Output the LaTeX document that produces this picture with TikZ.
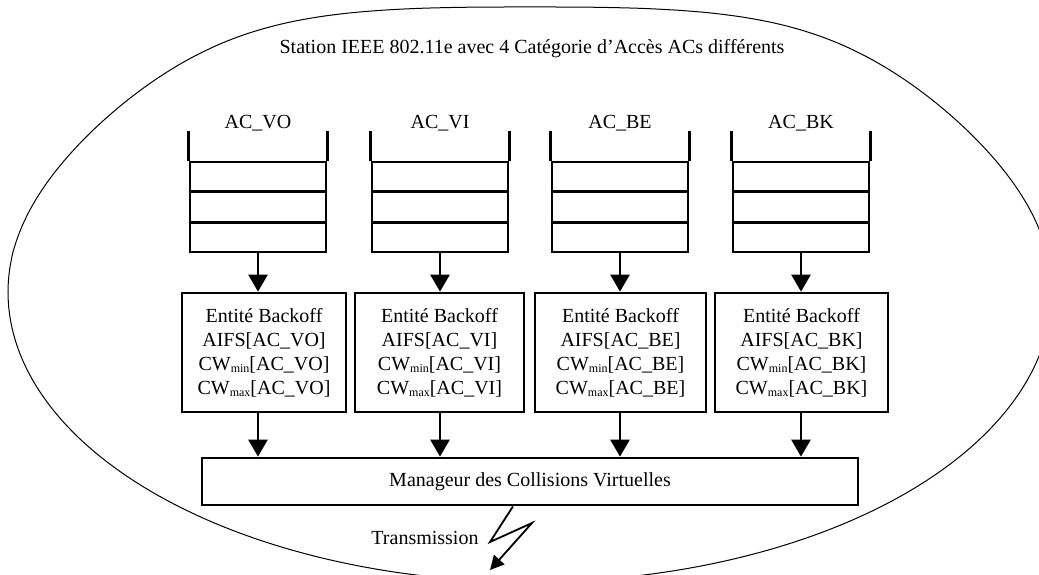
\documentclass[tikz,border=0pt]{standalone}
\usepackage{fontspec}
\setmainfont{Liberation Serif}
\usetikzlibrary{arrows.meta,calc}
\begin{document}
\begin{tikzpicture}[x=1pt,y=-1pt,
  thickln/.style={line width=2.7pt},
  qbox/.style={draw,thickln,minimum width=136pt,minimum height=90pt,inner sep=0pt},
  bobox/.style={draw,thickln,minimum height=119pt,inner sep=0pt,align=center,
     font=\fontsize{20}{24}\selectfont},
  lbl/.style={font=\fontsize{20}{24}\selectfont,inner sep=0pt},
  arr/.style={thickln,-{Triangle[width=19pt,length=17pt]}},
  bolt/.style={line width=1.8pt,-{Triangle[width=14pt,length=14pt]}}]
\useasboundingbox (0,0) rectangle (1039,575);
\begin{scope}
\clip (0,0) rectangle (1039,575);
\draw[line width=1pt]
  plot[domain=0.3:179.7, samples=150, smooth, variable=\t]
   ({530 + 522*cos(\t)*pow(abs(cos(\t)), 2/(2+0.8*pow(sin(\t),4)) - 1)},
    {292 - 285*pow(abs(sin(\t)), 2/(2+0.8*pow(sin(\t),4)))})
  -- plot[domain=180:360, samples=120, smooth, variable=\t]
   ({530 + 522*cos(\t)}, {292 - 290*sin(\t)})
  -- cycle;
\end{scope}
\node[lbl] (title) at (532,49) {Station IEEE 802.11e avec 4 Catégorie d’Accès ACs différents};
% queues
\foreach \n/\x/\t in {1/258/AC\_VO,2/440/AC\_VI,3/620/AC\_BE,4/801/AC\_BK}{
  \node[qbox] (q\n) at (\x,207) {};
  \draw[thickln] (q\n.north west) -- ++(0,-30);
  \draw[thickln] (q\n.north east) -- ++(0,-30);
  \draw[thickln] ($(q\n.north west)!1/3!(q\n.south west)$) -- ($(q\n.north east)!1/3!(q\n.south east)$);
  \draw[thickln] ($(q\n.north west)!2/3!(q\n.south west)$) -- ($(q\n.north east)!2/3!(q\n.south east)$);
  \node[lbl] (l\n) at (\x,123) {\t};
}
% backoff boxes
\newcommand{\bocontent}[1]{Entité Backoff\\AIFS[#1]\\CW{\fontsize{12}{12}\selectfont\raisebox{-2.5pt}{min}}[#1]\\CW{\fontsize{12}{12}\selectfont\raisebox{-2.5pt}{max}}[#1]}
\node[bobox,minimum width=164pt] (b1) at (264,352.5) {\bocontent{AC\_VO}};
\node[bobox,minimum width=169pt] (b2) at (439.5,352.5) {\bocontent{AC\_VI}};
\node[bobox,minimum width=171pt] (b3) at (620.5,352.5) {\bocontent{AC\_BE}};
\node[bobox,minimum width=173pt] (b4) at (801.5,352.5) {\bocontent{AC\_BK}};
% manager
\node[draw,thickln,minimum width=656pt,minimum height=47pt,inner sep=0pt,lbl] (m) at (530,481.5) {Manageur des Collisions Virtuelles};
% arrows
\foreach \n in {1,2,3,4}{
  \draw[arr] (q\n.south) -- (q\n.south |- b\n.north);
  \draw[arr] (q\n.south |- b\n.south) -- (q\n.south |- m.north);
}
% transmission
\coordinate (z0) at ($(m.south)+(-17,0)$);
\coordinate (z1) at (490,542);
\coordinate (z2) at (532,523);
\coordinate (tip) at (490,570);
\draw[bolt] (z0) -- (z1) -- (z2) -- (tip);
\node[lbl] (tr) at (425,538) {Transmission};
\end{tikzpicture}
\end{document}
